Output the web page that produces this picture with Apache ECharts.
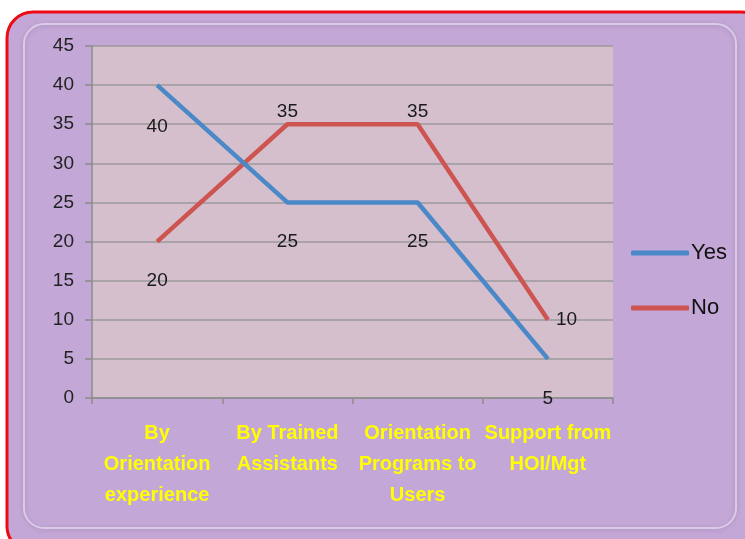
<!DOCTYPE html>
<html>
<head>
<meta charset="utf-8">
<style>
  html, body { margin: 0; padding: 0; background: #ffffff; }
  #chart { width: 745px; height: 539px; }
</style>
<script src="https://cdn.jsdelivr.net/npm/echarts@6/dist/echarts.min.js"></script>
</head>
<body>
<div id="chart"></div>
<script>
// Categories along the x axis
const categories = [
  'By\nOrientation\nexperience',
  'By Trained\nAssistants',
  'Orientation\nPrograms to\nUsers',
  'Support from\nHOI/Mgt'
];

// Series values
const yesValues = [40, 25, 25, 5];
const noValues = [20, 35, 35, 10];

// Value axis ticks
const yTicks = { min: 0, max: 45, interval: 5 };

// Where each value label sits relative to its point
const yesLabelPos = ['bottom', 'bottom', 'bottom', 'bottom'];
const noLabelPos = ['bottom', 'top', 'top', 'right'];

const labelFont = {
  fontFamily: 'Liberation Sans, Arial, sans-serif',
  fontSize: 19,
  color: '#1a1a1a'
};

function buildData(values, positions, distances) {
  return values.map((v, i) => ({
    value: v,
    label: { position: positions[i], distance: distances[i] }
  }));
}

const chart = echarts.init(document.getElementById('chart'), null, { renderer: 'canvas' });

chart.setOption({
  backgroundColor: '#ffffff',
  animation: false,
  graphic: [
    {
      type: 'rect',
      z: -10,
      shape: { x: 7, y: 12, width: 760, height: 540, r: 26 },
      style: { fill: '#c3a7d7', stroke: '#ee0a14', lineWidth: 3 }
    },
    {
      type: 'rect',
      z: -9,
      shape: { x: 24, y: 24, width: 712, height: 504, r: 20 },
      style: {
        fill: 'rgba(0,0,0,0)',
        stroke: 'rgba(232,222,238,0.7)',
        lineWidth: 2,
        shadowColor: 'rgba(90,70,110,0.35)',
        shadowBlur: 4,
        shadowOffsetY: 1
      }
    }
  ],
  grid: {
    left: 92,
    right: 132,
    top: 46,
    bottom: 141,
    show: true,
    backgroundColor: '#d5bfcd',
    borderWidth: 0
  },
  legend: {
    orient: 'vertical',
    left: 626,
    top: 237,
    itemGap: 33,
    itemWidth: 58,
    itemHeight: 5,
    icon: 'roundRect',
    textStyle: {
      fontFamily: 'Liberation Sans Narrow, Liberation Sans, sans-serif',
      fontSize: 22,
      color: '#111111',
      padding: [0, 0, 0, -3]
    },
    data: ['Yes', 'No']
  },
  xAxis: {
    type: 'category',
    data: categories,
    boundaryGap: true,
    axisLine: { show: true, lineStyle: { color: '#8c8c8c', width: 1.5 } },
    axisTick: { show: true, length: 6, inside: false, lineStyle: { color: '#8c8c8c', width: 1.5 } },
    axisLabel: {
      margin: 20,
      interval: 0,
      fontFamily: 'Liberation Sans Narrow, Liberation Sans, sans-serif',
      fontWeight: 'bold',
      fontSize: 20,
      lineHeight: 31,
      color: '#ffff00'
    },
    splitLine: { show: false }
  },
  yAxis: {
    type: 'value',
    min: yTicks.min,
    max: yTicks.max,
    interval: yTicks.interval,
    axisLine: { show: true, lineStyle: { color: '#8c8c8c', width: 1.5 } },
    axisTick: { show: true, length: 7, lineStyle: { color: '#8c8c8c', width: 1.5 } },
    axisLabel: {
      margin: 18,
      fontFamily: 'Liberation Sans, Arial, sans-serif',
      fontSize: 19,
      color: '#222222'
    },
    splitLine: { show: true, lineStyle: { color: '#9a9a9a', width: 1.5 } }
  },
  series: [
    {
      name: 'Yes',
      type: 'line',
      data: buildData(yesValues, yesLabelPos, [32, 30, 30, 30]),
      color: '#4a88c8',
      lineStyle: { width: 4.5, color: '#4a88c8' },
      symbol: 'circle',
      symbolSize: 0.1,
      showSymbol: true,
      itemStyle: { color: '#4a88c8' },
      label: Object.assign({ show: true }, labelFont),
      z: 3
    },
    {
      name: 'No',
      type: 'line',
      data: buildData(noValues, noLabelPos, [30, 3, 3, 8]),
      color: '#cd5450',
      lineStyle: { width: 4.5, color: '#cd5450' },
      symbol: 'circle',
      symbolSize: 0.1,
      showSymbol: true,
      itemStyle: { color: '#cd5450' },
      label: Object.assign({ show: true }, labelFont),
      z: 2
    }
  ]
});
</script>
</body>
</html>
